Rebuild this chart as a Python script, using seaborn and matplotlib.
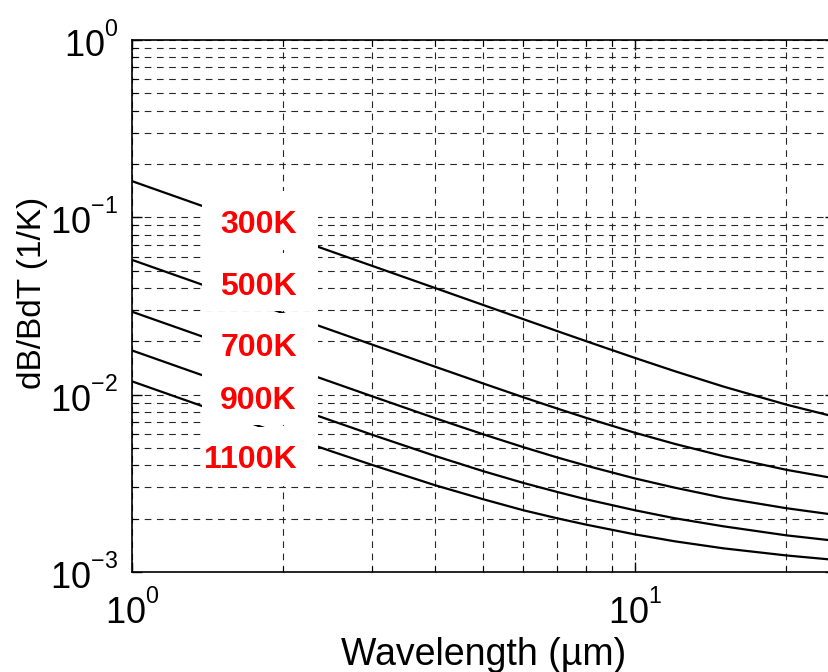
import numpy as np
import pandas as pd
import matplotlib
matplotlib.use("Agg")
import matplotlib.pyplot as plt
import seaborn as sns
from matplotlib.patches import Rectangle
from matplotlib.ticker import NullFormatter, LogLocator

try:
    # smaller, higher exponents, closer to the original tick labels
    import matplotlib._mathtext as _mt
    _mt.SHRINK_FACTOR = 0.64
    _mt.FontConstantsBase.sup1 = 1.0
except Exception:
    pass

# values (log-log)
wavelength = [1, 1.5, 2, 2.5, 3, 4, 5, 6, 7, 8, 10, 12, 15, 20, 25]
t300 = [0.160, 0.1066, 0.0799, 0.06395, 0.0533, 0.0400, 0.0320, 0.02666, 0.02286,
        0.02003, 0.01612, 0.01357, 0.01111, 0.00879, 0.00750]
t500 = [0.05755, 0.03837, 0.02878, 0.02302, 0.01918, 0.01440, 0.01155, 0.00967, 0.00836,
        0.00740, 0.00610, 0.00528, 0.00450, 0.00377, 0.00337]
t700 = [0.02936, 0.01958, 0.01468, 0.01175, 0.00980, 0.00738, 0.00597, 0.00506, 0.00443,
        0.00398, 0.00337, 0.00299, 0.00262, 0.00229, 0.00210]
t900 = [0.01776, 0.01184, 0.00888, 0.00712, 0.00595, 0.00452, 0.00370, 0.00318, 0.00283,
        0.00257, 0.00223, 0.00201, 0.00181, 0.00161, 0.00150]
t1100 = [0.01189, 0.00793, 0.00595, 0.00478, 0.00402, 0.00309, 0.00257, 0.00223, 0.00201,
         0.00185, 0.00163, 0.00149, 0.00136, 0.00124, 0.00117]

temps = ["300K", "500K", "700K", "900K", "1100K"]
series = [t300, t500, t700, t900, t1100]

# label placement (axes fraction): baseline y and white box extents
label_y = [0.6372, 0.5207, 0.4060, 0.3064, 0.1955]
box_y = [(0.6053, 0.7162), (0.4906, 0.5996), (0.3760, 0.4868), (0.2763, 0.3760), (0.1617, 0.2726)]

sns.set_style("ticks")
plt.rcParams["font.family"] = ["Liberation Sans", "DejaVu Sans"]
plt.rcParams["mathtext.fontset"] = "custom"
plt.rcParams["mathtext.rm"] = "Liberation Sans"
plt.rcParams["mathtext.it"] = "Liberation Sans:italic"
plt.rcParams["mathtext.bf"] = "Liberation Sans:bold"
plt.rcParams["axes.unicode_minus"] = False
for key in ["text.color", "axes.labelcolor", "xtick.color", "ytick.color", "axes.edgecolor"]:
    plt.rcParams[key] = "black"

frames = []
for name, vals in zip(temps, series):
    frames.append(pd.DataFrame({"wavelength": wavelength, "value": vals, "temp": name}))
df = pd.concat(frames, ignore_index=True)

fig = plt.figure(figsize=(8.29, 6.72), dpi=100)
ax = fig.add_axes([0.1592, 0.1488, 0.848, 0.7917])
ax.set_xscale("log")
ax.set_yscale("log")

sns.lineplot(data=df, x="wavelength", y="value", hue="temp", palette=["black"] * 5,
             estimator=None, legend=False, linewidth=1.6, ax=ax, zorder=3)

ax.set_xlim(1, 25)
ax.set_ylim(1e-3, 1)

ax.grid(True, which="both", linestyle=(0, (6, 5)), color="0.15", linewidth=0.8)
ax.xaxis.set_minor_locator(LogLocator(base=10, subs=np.arange(2, 10)))
ax.yaxis.set_minor_locator(LogLocator(base=10, subs=np.arange(2, 10)))
ax.xaxis.set_minor_formatter(NullFormatter())
ax.yaxis.set_minor_formatter(NullFormatter())

ax.tick_params(which="both", direction="in", top=True, right=True, labelsize=26,
               color="black", labelcolor="black")
ax.tick_params(axis="x", pad=13)
ax.tick_params(axis="y", pad=10)
ax.tick_params(which="major", length=7, width=1)
ax.tick_params(which="minor", length=4, width=0.8)
for s in ax.spines.values():
    s.set_linewidth(1.2)
    s.set_color("black")

ax.set_xlabel("Wavelength (\u00b5m)", fontsize=27, labelpad=4)
ax.set_ylabel("dB/BdT (1/K)", fontsize=24)
ax.yaxis.set_label_coords(-0.12, 0.525)

for name, yb, (y0, y1) in zip(temps, label_y, box_y):
    ax.add_patch(Rectangle((0.0996, y0), 0.2646 - 0.0996, y1 - y0, transform=ax.transAxes,
                           facecolor="white", edgecolor="none", zorder=5))
    ax.text(0.2347, yb, name, transform=ax.transAxes, ha="right", va="baseline",
            color="#ff0000", fontsize=23, fontweight="bold", zorder=6)

fig.savefig("out.png", dpi=100)
